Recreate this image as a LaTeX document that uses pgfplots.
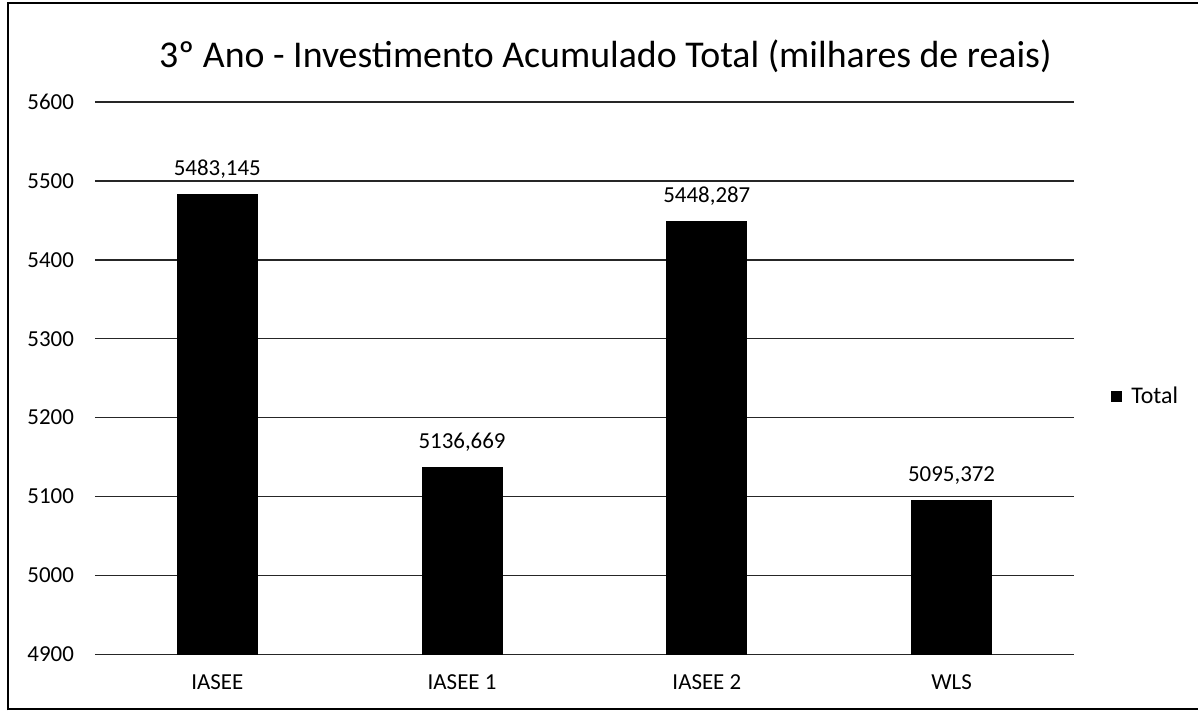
\documentclass[border=0pt]{standalone}
\usepackage{fontspec}
\setmainfont{Carlito}
\usepackage{pgfplots}
\pgfplotsset{compat=1.18}
\begin{document}
\begin{tikzpicture}[x=0.5bp,y=0.5bp]
\path (0,0) rectangle (1199,713);
\draw[line width=1.2bp] (8,2) -- (8,710) -- (1199,710);
\draw[line width=1bp] (8,3) -- (1199,3);
\begin{axis}[at={(47.5bp,29bp)}, anchor=south west, scale only axis,
  width=490bp, height=276.5bp,
  ybar, bar width=40bp,
  ymin=4900, ymax=5600, ytick={4900,5000,...,5600},
  xmin=-0.5, xmax=3.5, xtick={0,1,2,3},
  xticklabels={IASEE,IASEE 1,IASEE 2,WLS},
  ymajorgrids, grid style={black!85, line width=0.8bp},
  axis line style={draw=none}, major tick length=0,
  /pgf/number format/assume math mode=true,
  tick label style={font=\fontsize{11.5}{13}\selectfont},
  yticklabel style={/pgf/number format/1000 sep={}, xshift=-7bp},
  xticklabel style={yshift=-6.5bp},
  nodes near coords,
  nodes near coords style={/pgf/number format/fixed, /pgf/number format/precision=3, /pgf/number format/use comma, /pgf/number format/1000 sep={}, /pgf/number format/fixed zerofill, anchor=base, yshift=9.5bp, font=\fontsize{11.5}{13}\selectfont, black},
  legend style={at={(1.037,0.467)}, anchor=west, draw=none, fill=none, font=\fontsize{12}{14}\selectfont, inner sep=0pt, /tikz/every even column/.append style={column sep=0pt}},
  legend image code/.code={\fill[black] (0bp,-2.5bp) rectangle (5bp,2.5bp);},
  /tikz/every legend image post/.style={},
  clip=false,
]
\addplot[fill=black, draw=black] coordinates {(0,5483.145) (1,5136.669) (2,5448.287) (3,5095.372)};
\addlegendentry{\hspace{3bp}Total}
\end{axis}
\node[font=\fontsize{19}{22}\selectfont] at (606,657) {3º Ano - Investimento Acumulado Total (milhares de reais)};
\end{tikzpicture}
\end{document}
